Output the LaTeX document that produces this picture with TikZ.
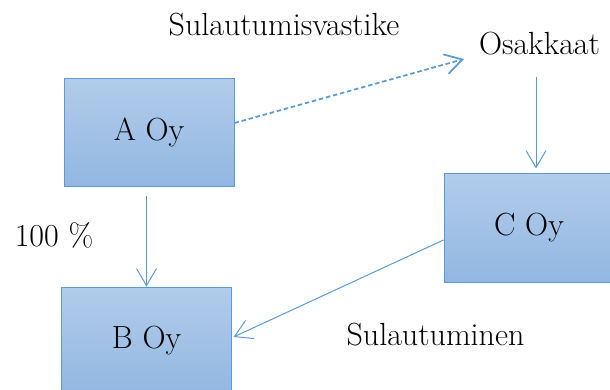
\documentclass[tikz,border=0pt]{standalone}
\usepackage{tikz}
\usetikzlibrary{arrows.meta,calc,positioning}

\definecolor{boxtop}{RGB}{178,204,234}
\definecolor{boxbottom}{RGB}{146,183,226}
\definecolor{boxline}{RGB}{91,155,213}

\tikzset{
  firm/.style={draw=boxline, line width=1pt, top color=boxtop, bottom color=boxbottom,
    minimum width=170pt, minimum height=108pt, inner sep=0pt, font=\fontsize{32}{38}\selectfont},
  lbl/.style={inner sep=0pt, font=\fontsize{32}{38}\selectfont},
  link/.style={color=boxline, line width=1pt, -{Straight Barb[length=17pt,width=20pt]}},
}

\begin{document}
\begin{tikzpicture}[x=1pt,y=-1pt,node distance=208.5pt]
      \useasboundingbox (0,0) rectangle (610,390);

      \node[firm] (A) at (149,132.5) {A Oy} ;
      \node[firm, below of=A, xshift=-2.5pt] (B) {B Oy} ;
      \node[firm] (C) at (529,228) {C Oy} ;

      \node[lbl, anchor=base] (vastike) at (284,36) {Sulautumisvastike} ;
      \node[lbl, anchor=base] (osk) at (539.5,55) {Osakkaat} ;
      \node[lbl, anchor=base] (pct) at (54,246.7) {100 \%} ;
      \node[lbl, anchor=base] (sul) at (435.5,345) {Sulautuminen} ;

      \path[link]
      (A.south -| B.north) edge[shorten <=9pt] (B.north)
      (osk.south -| 536,0) edge[shorten <=21pt, shorten >=5pt] (C.north -| 536,0)
      ($(C.west)+(0,12)$) edge ($(B.east)+(1.5,-4)$)
      ;

      \path[link, line width=1.75pt, dash pattern=on 4.5pt off 2.8pt]
      ($(A.east)+(0,-9.5)$) edge ($(osk.base)+(-75.5,4)$)
      ;

    \end{tikzpicture}
\end{document}
